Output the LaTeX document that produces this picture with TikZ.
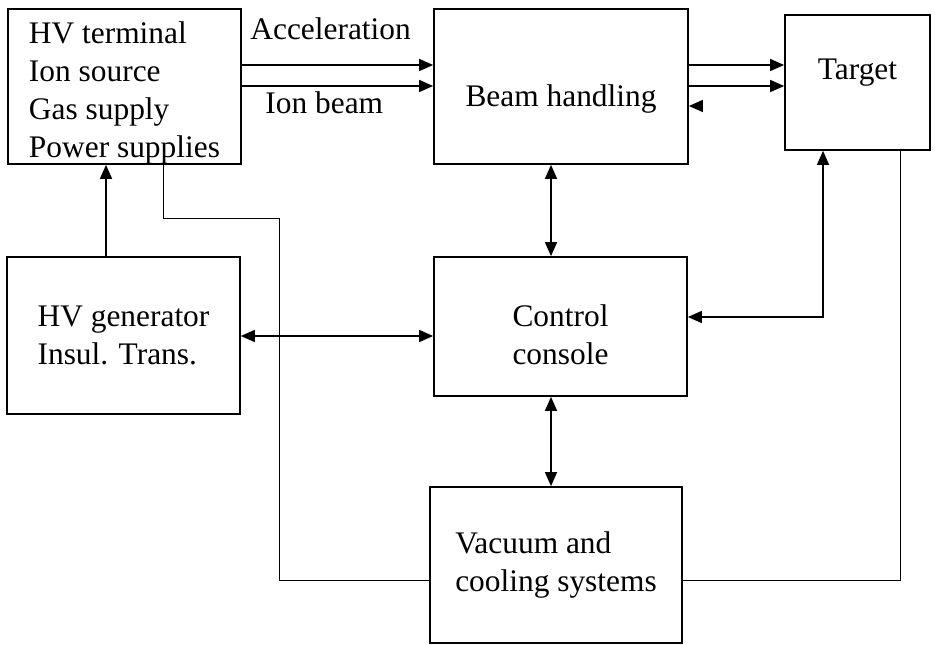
\documentclass[tikz,border=0pt]{standalone}
\usepackage{fontspec}
\setmainfont{Liberation Serif}
\usetikzlibrary{arrows.meta, calc}
\tikzset{%
  box/.style={draw, line width=0.85pt, inner sep=0pt},
  sig/.style={line width=0.7pt, -{Triangle[length=7pt,width=6pt]}},
  sigboth/.style={line width=0.7pt,
                  {Triangle[length=7pt,width=6pt]}-{Triangle[length=7pt,width=6pt]}},
  link/.style={line width=0.45pt},
  lbl/.style={inner sep=0pt},
}

\begin{document}
\begin{tikzpicture}[x=0.5pt, y=-0.5pt, font=\fontsize{15.7}{19}\selectfont]

    \useasboundingbox (0,0) rectangle (935,646);

    % blocks
    \node[box, minimum width=116.5pt, minimum height=77.5pt,
          label={[name=termtxt, align=left, yshift=-3pt]center:HV terminal\\Ion source\\Gas supply\\Power supplies}] (term) at (124.5,86.5) {};
    \node[box, text height=23pt, minimum width=127pt, minimum height=77.5pt] (beam) at (561,86.5)
        {Beam handling};
    \node[box, text depth=13pt, minimum width=72.5pt, minimum height=67.5pt] (tgt) at (857.5,82.5)
        {Target};
    \node[box, align=left, minimum width=116.5pt, minimum height=78.5pt] (gen) at (123.5,335.5)
        {HV generator\\Insul. Trans.};
    \node[box, minimum width=126.5pt, minimum height=69.5pt,
          label={[name=ctrltxt, align=center, yshift=-4pt]center:Control\\console}] (ctrl) at (560.5,326.5) {};
    \node[box, align=left, minimum width=126pt, minimum height=78pt] (vac) at (556,565)
        {Vacuum and\\cooling systems};

    % rows and columns of the connectors
    \coordinate (acc) at (0,65);
    \coordinate (ion) at (0,86);
    \coordinate (back) at (700,106);
    \coordinate (col) at (551,0);
    \coordinate (feed) at (106,0);
    \coordinate (mid) at (0,336);
    \coordinate (ret) at (823,317);
    \coordinate (low) at (0,580);

    % beam line
    \draw[sig] (term.east |- acc) -- (beam.west |- acc);
    \draw[sig] (term.east |- ion) -- (beam.west |- ion);
    \draw[sig] (beam.east |- acc) -- (tgt.west |- acc);
    \draw[sig] (beam.east |- ion) -- (tgt.west |- ion);
    \draw[sig] (back) -- (beam.east |- back);

    \node[lbl, anchor=base west] (acclbl) at (250,40) {Acceleration};
    \node[lbl, anchor=base west] (ionlbl) at (265,114) {Ion beam};

    % control links
    \draw[sig] (gen.north -| feed) -- (term.south -| feed);
    \draw[sigboth] (beam.south -| col) -- (ctrl.north -| col);
    \draw[sigboth] (ctrl.south -| col) -- (vac.north -| col);
    \draw[sigboth] (gen.east |- mid) -- (ctrl.west |- mid);
    \draw[sigboth] (ctrl.east |- ret) -| (tgt.south -| ret);

    % vacuum and cooling lines
    \draw[link] (term.south -| 163,0) |- (279,218) |- (vac.west |- low);
    \draw[link] (vac.east |- low) -| (tgt.south -| 900,0);

\end{tikzpicture}
\end{document}
